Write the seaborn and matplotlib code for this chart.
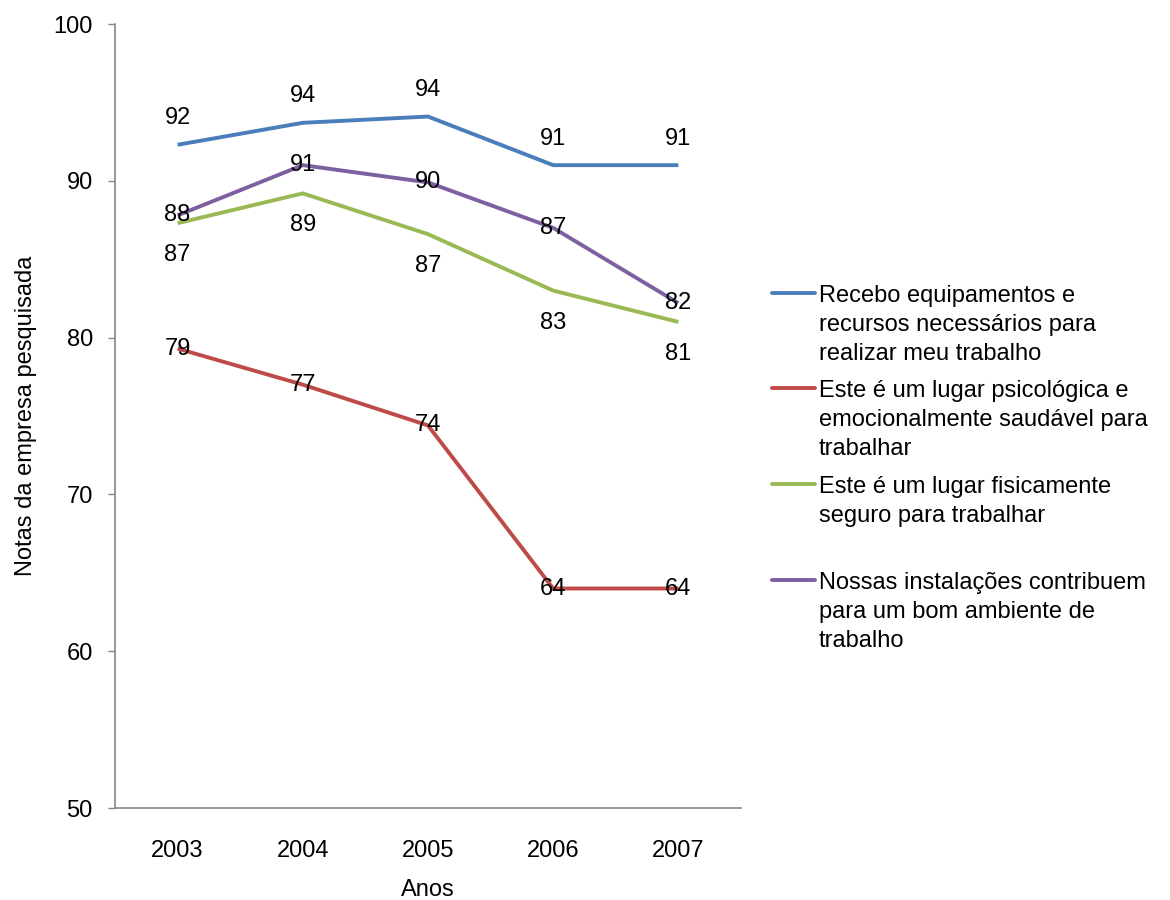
import numpy as np
import pandas as pd
import matplotlib
matplotlib.use("Agg")
import matplotlib.pyplot as plt
from matplotlib.lines import Line2D
import seaborn as sns

years = ["2003", "2004", "2005", "2006", "2007"]
series_names = [
    "Recebo equipamentos e\nrecursos necessários para\nrealizar meu trabalho",
    "Este é um lugar psicológica e\nemocionalmente saudável para\ntrabalhar",
    "Este é um lugar fisicamente\nseguro para trabalhar",
    "Nossas instalações contribuem\npara um bom ambiente de\ntrabalho",
]
equipamentos = [92.3, 93.7, 94.1, 91.0, 91.0]
psicologico = [79.3, 77.0, 74.4, 64.0, 64.0]
fisico = [87.3, 89.2, 86.6, 83.0, 81.0]
instalacoes = [87.8, 91.0, 89.9, 87.0, 82.2]
colors = ["#4A7EBB", "#BE4B48", "#98B954", "#7D60A0"]
# vertical placement of each series' value labels (points)
label_offsets = [19, 0, -23, 0]

sns.set_theme(style="white")
plt.rcParams["font.family"] = ["Liberation Sans", "DejaVu Sans"]
for key in ["text.color", "axes.labelcolor", "xtick.labelcolor", "ytick.labelcolor"]:
    plt.rcParams[key] = "black"

FS = 17

values = [equipamentos, psicologico, fisico, instalacoes]
df = pd.DataFrame({
    "pos": np.tile(np.arange(len(years)), len(series_names)),
    "nota": np.concatenate(values),
    "serie": np.repeat(series_names, len(years)),
})

fig = plt.figure(figsize=(11.7, 9), dpi=100)
ax = fig.add_axes([0.0983, 0.1022, 0.535, 0.8711])

sns.lineplot(data=df, x="pos", y="nota", hue="serie", hue_order=series_names,
             palette=colors, linewidth=2.8, legend=False, ax=ax,
             solid_capstyle="butt")

for vals, off in zip(values, label_offsets):
    for i, v in enumerate(vals):
        ax.annotate(f"{v:.0f}", (i, v), xytext=(0, off), textcoords="offset points",
                    ha="center", va="center", fontsize=FS, color="black")

ax.set_xlim(-0.5, len(years) - 0.5)
ax.set_ylim(50, 100)
ax.set_yticks(np.arange(50, 101, 10))
ax.set_xticks(np.arange(len(years)))
ax.set_xticklabels(years)
ax.set_xticks(np.arange(-0.5, len(years), 1), minor=True)
ax.tick_params(axis="x", which="major", length=0, pad=23, labelsize=FS)
ax.tick_params(axis="x", which="minor", length=5, width=1, color="#868686", direction="out")
ax.tick_params(axis="y", length=5, width=1, color="#868686", direction="out",
               left=True, pad=11, labelsize=FS)
ax.grid(False)
for side in ["top", "right"]:
    ax.spines[side].set_visible(False)
for side in ["left", "bottom"]:
    ax.spines[side].set_color("#868686")
    ax.spines[side].set_linewidth(1.2)

ax.set_xlabel("Anos", fontsize=FS, labelpad=12)
ax.set_ylabel("Notas da empresa pesquisada", fontsize=FS, labelpad=12)

# legend: handle aligned with first text line of each entry
entry_tops = [293, 388, 484, 580]
for name, c, y in zip(series_names, colors, entry_tops):
    yf = 1 - y / 900
    fig.add_artist(Line2D([772 / 1170, 815 / 1170], [yf, yf], color=c, lw=2.8,
                          transform=fig.transFigure))
    fig.text(819 / 1170, 1 - (y - 8) / 900, name, fontsize=FS, va="top", ha="left",
             linespacing=1.42)

fig.savefig("out.png", dpi=100, facecolor="white")
